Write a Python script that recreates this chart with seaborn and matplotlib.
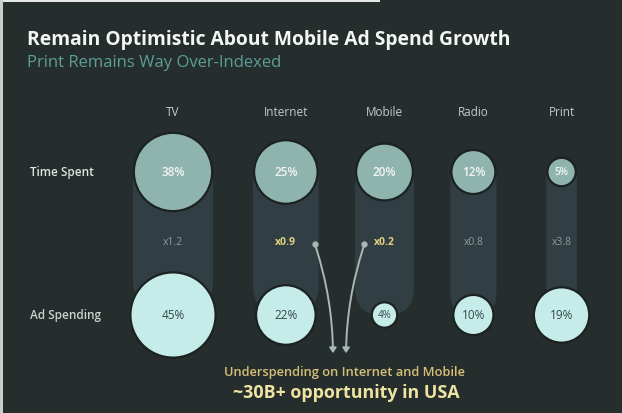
import numpy as np
import pandas as pd
import matplotlib
matplotlib.use("Agg")
import matplotlib.pyplot as plt
from matplotlib.patches import FancyArrowPatch, FancyBboxPatch
import seaborn as sns

# ---- data -------------------------------------------------------------
channels = ["TV", "Internet", "Mobile", "Radio", "Print"]
time_spent = [38, 25, 20, 12, 5]          # share of media time, %
ad_spending = [45, 22, 4, 10, 19]         # share of ad spend, %
highlighted = ["Internet", "Mobile"]
row_labels = ["Time Spent", "Ad Spending"]
title = "Remain Optimistic About Mobile Ad Spend Growth"
subtitle = "Print Remains Way Over-Indexed"
note_line1 = "Underspending on Internet and Mobile"
note_line2 = "~30B+ opportunity in USA"

# ---- style ------------------------------------------------------------
BG = "#262e2d"
TOP_FILL = "#8fb4ad"
BOT_FILL = "#c6ecea"
BAND = "#313f45"
RING = "#1b2221"
W, H = 622, 414
PX_PER_SQRT = 6.35          # circle radius (px) per sqrt(percent)
COL_GAP = 38.5              # free space between neighbouring columns (px)
FIRST_X = 173
ROW_Y = {"Time Spent": 173, "Ad Spending": 316}
HEADER_Y = 113
MULT_Y = 243
NOTE_X = 344

sns.set_theme(style="white")
plt.rcParams["font.family"] = ["Open Sans", "DejaVu Sans"]

# column centres packed from the largest circle in each column
r_top = PX_PER_SQRT * np.sqrt(time_spent)
r_bot = PX_PER_SQRT * np.sqrt(ad_spending)
r_col = np.maximum(r_top, r_bot)
col_x = FIRST_X + np.concatenate([[0], np.cumsum(r_col[:-1] + r_col[1:] + COL_GAP)])

df = pd.DataFrame({
    "channel": channels * 2,
    "metric": ["Time Spent"] * 5 + ["Ad Spending"] * 5,
    "value": time_spent + ad_spending,
    "x": np.concatenate([col_x, col_x]),
})
df["y"] = df["metric"].map(ROW_Y)

fig = plt.figure(figsize=(W / 100, H / 100), dpi=100, facecolor=BG)
ax = fig.add_axes([0, 0, 1, 1])
ax.set_facecolor(BG)
ax.set_xlim(0, W)
ax.set_ylim(H, 0)
ax.axis("off")

# light frame edges
ax.add_patch(plt.Rectangle((0, 0), 380, 2.5, color="#e4e6e6", zorder=5, lw=0))
ax.add_patch(plt.Rectangle((0, 0), 3, H, color="#c9cdcc", zorder=5, lw=0))

# connecting bands behind each circle pair (rounded capsules)
for x, rt in zip(col_x, r_top):
    w = 2 * rt + 2
    top = ROW_Y["Time Spent"] - rt * 0.6
    h = ROW_Y["Ad Spending"] - top
    ax.add_patch(FancyBboxPatch((x - w / 2, top), w, h,
                                boxstyle=f"round,pad=0,rounding_size={w / 2.2:.1f}",
                                fc=BAND, ec="none", zorder=1))

# circles, area proportional to the share
k = (1.44 * PX_PER_SQRT) ** 2
sns.scatterplot(data=df, x="x", y="y", hue="metric",
                palette={"Time Spent": TOP_FILL, "Ad Spending": BOT_FILL},
                size="value", size_norm=(0, 50), sizes=(0, k * 50),
                edgecolor=RING, linewidth=1.6, legend=False, ax=ax, zorder=3)

for _, r in df.iterrows():
    top_row = r["metric"] == "Time Spent"
    ax.text(r["x"], r["y"], f"{r['value']}%", ha="center", va="center",
            fontsize=8.5 if r["value"] >= 10 else 7,
            color="#f3f6f5" if top_row else "#364646",
            fontweight="semibold" if top_row else "normal", zorder=4)

# headers and row labels
for x, name in zip(col_x, channels):
    ax.text(x, HEADER_Y, name, ha="center", va="center", fontsize=8.5,
            color="#c3c9c8", fontweight="medium", zorder=4)
ax.text(30, ROW_Y["Time Spent"], row_labels[0], ha="left", va="center",
        fontsize=8.5, color="#dfe3e2", fontweight="semibold")
ax.text(30, ROW_Y["Ad Spending"], row_labels[1], ha="left", va="center",
        fontsize=8.5, color="#cdd1d0", fontweight="semibold")

# spend / time multipliers
for x, name, t, a in zip(col_x, channels, time_spent, ad_spending):
    hot = name in highlighted
    ax.text(x, MULT_Y, f"x{a / t:.1f}", ha="center", va="center", fontsize=7.5,
            color="#e2cf7e" if hot else "#8d9b9b",
            fontweight="bold" if hot else "normal", zorder=4)

# arrows from the under-indexed channels down to the note
i_int, i_mob = channels.index("Internet"), channels.index("Mobile")
starts = [(col_x[i_int] + 29, MULT_Y + 2), (col_x[i_mob] - 20, MULT_Y + 2)]
ends = [(NOTE_X - 11, 357), (NOTE_X + 2, 357)]
for (sx, sy), (ex, ey), rad in zip(starts, ends, [-0.08, 0.08]):
    ax.add_patch(FancyArrowPatch((sx, sy), (ex, ey),
                                 connectionstyle=f"arc3,rad={rad}",
                                 arrowstyle="-|>,head_length=3,head_width=2",
                                 color="#a9b8b4", lw=1.4, zorder=4))
    ax.plot(sx, sy, "o", ms=3.5, color="#a9b8b4", zorder=4)

ax.text(NOTE_X, 373, note_line1, ha="center", va="center", fontsize=9.3,
        color="#d6bf78", fontweight="semibold")
ax.text(NOTE_X + 2, 393, note_line2, ha="center", va="center", fontsize=12.9,
        color="#efe3a2", fontweight="bold")

# title block
ax.text(27, 40, title, ha="left", va="center", fontsize=13.9,
        color="#f4f6f5", fontweight="bold")
ax.text(27, 63, subtitle, ha="left", va="center", fontsize=12,
        color="#5b9f97")

fig.savefig("out.png", dpi=100, facecolor=BG)
